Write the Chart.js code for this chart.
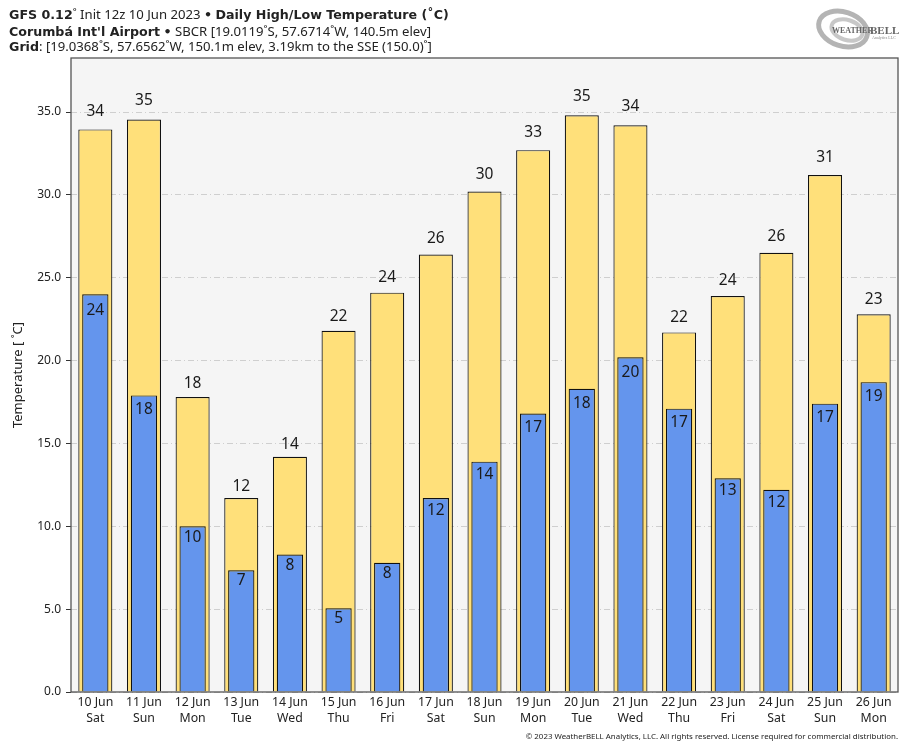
<!DOCTYPE html>
<html>
<head>
<meta charset="utf-8">
<title>Daily High/Low Temperature</title>
<script src="https://cdn.jsdelivr.net/npm/chart.js@4"></script>
<style>
  body { margin: 0; background: #fff; }
  #wrap { position: relative; width: 914px; height: 750px; overflow: hidden; }
  canvas { position: absolute; left: 0; top: 0; }
  .head { position: absolute; left: 9px; white-space: nowrap; color: #222; font: 13.15px "Noto Sans", sans-serif; line-height: 16px; }
  .head b { font: bold 12.65px "DejaVu Sans", sans-serif; }
  #foot { position: absolute; right: 16px; top: 731px; color: #222; font: 7.9px "Noto Sans", sans-serif; white-space: nowrap; }
  #logo { position: absolute; left: 810px; top: 4px; }
</style>
</head>
<body>
<div id="wrap">
  <canvas id="myChart" width="914" height="750"></canvas>
  <div class="head" style="top:6px"><b>GFS 0.12</b>˚ Init 12z 10 Jun 2023 <b>•</b> <b>Daily High/Low Temperature (˚C)</b></div>
  <div class="head" style="top:23px"><b>Corumbá Int'l Airport</b> <b>•</b> SBCR [19.0119˚S, 57.6714˚W, 140.5m elev]</div>
  <div class="head" style="top:38px"><b>Grid</b>: [19.0368˚S, 57.6562˚W, 150.1m elev, 3.19km to the SSE (150.0)˚]</div>
  <svg id="logo" width="95" height="50" viewBox="0 0 95 50">
    <g fill="none">
      <ellipse cx="33" cy="25" rx="25" ry="17" stroke="#b4b4b4" stroke-width="5" transform="rotate(18 33 25)"/>
      <ellipse cx="37" cy="26" rx="16" ry="10" stroke="#c8c8c8" stroke-width="4" transform="rotate(18 37 26)"/>
    </g>
    <text x="22" y="29" font-family="Liberation Serif" font-size="8" font-weight="bold" fill="#666">WEATHER</text>
    <text x="60" y="30" font-family="Liberation Serif" font-size="11" font-weight="bold" fill="#666">BELL</text>
    <text x="62" y="35" font-family="Liberation Serif" font-size="4" fill="#888">Analytics LLC</text>
  </svg>
  <div id="foot">© 2023 WeatherBELL Analytics, LLC. All rights reserved. License required for commercial distribution.</div>
</div>
<script>
// Data
const days = ['10 Jun', '11 Jun', '12 Jun', '13 Jun', '14 Jun', '15 Jun', '16 Jun', '17 Jun', '18 Jun', '19 Jun', '20 Jun', '21 Jun', '22 Jun', '23 Jun', '24 Jun', '25 Jun', '26 Jun'];
const weekdays = ['Sat', 'Sun', 'Mon', 'Tue', 'Wed', 'Thu', 'Fri', 'Sat', 'Sun', 'Mon', 'Tue', 'Wed', 'Thu', 'Fri', 'Sat', 'Sun', 'Mon'];
const highs = [33.95, 34.55, 17.8, 11.7, 14.2, 21.8, 24.1, 26.4, 30.2, 32.7, 34.8, 34.2, 21.7, 23.9, 26.5, 31.2, 22.8];
const lows = [24.0, 17.9, 10.0, 7.35, 8.3, 5.05, 7.8, 11.7, 13.9, 16.8, 18.3, 20.2, 17.1, 12.9, 12.2, 17.4, 18.7];
const highLabels = [34, 35, 18, 12, 14, 22, 24, 26, 30, 33, 35, 34, 22, 24, 26, 31, 23];
const lowLabels = [24, 18, 10, 7, 8, 5, 8, 12, 14, 17, 18, 20, 17, 13, 12, 17, 19];

const fontName = '"Noto Sans", sans-serif';

// plot background goes under the grid
const plotBackground = {
    id: 'plotBackground',
    beforeDraw(chart) {
        const a = chart.chartArea;
        chart.ctx.fillStyle = '#f5f5f5';
        chart.ctx.fillRect(a.left, a.top, a.width, a.height);
    }
};

// value labels and the dark frame around the plot
// the gap between label and bar top grows with the value in the original
const barLabels = {
    id: 'barLabels',
    afterDatasetsDraw(chart) {
        const ctx = chart.ctx;
        const a = chart.chartArea;
        const x = chart.scales.x;
        const y = chart.scales.y;
        ctx.save();
        ctx.fillStyle = '#1a1a1a';
        ctx.font = '15.5px ' + fontName;
        ctx.textAlign = 'center';
        ctx.textBaseline = 'middle';
        for (let i = 0; i < days.length; i++) {
            ctx.fillText(highLabels[i], x.getPixelForValue(i), y.getPixelForValue(highs[i]) - 7.4 - 0.32 * highs[i]);
            ctx.fillText(lowLabels[i], x.getPixelForValue(i), y.getPixelForValue(lows[i]) + 8.2 + 0.34 * lows[i]);
        }
        ctx.strokeStyle = '#555';
        ctx.lineWidth = 1.3;
        ctx.strokeRect(a.left, a.top, a.width, a.height);
        ctx.restore();
    }
};

const ctx = document.getElementById('myChart').getContext('2d');
const myChart = new Chart(ctx, {
    type: 'bar',
    data: {
        labels: days.map((d, i) => [d, weekdays[i]]),
        datasets: [
            {
                label: 'Low',
                data: lows,
                backgroundColor: '#6495ed',
                borderColor: '#111',
                borderWidth: 1.2,
                categoryPercentage: 0.54,
                barPercentage: 1,
                grouped: false,
                order: 1
            },
            {
                label: 'High',
                data: highs,
                backgroundColor: '#ffe07a',
                borderColor: '#111',
                borderWidth: 1.2,
                categoryPercentage: 0.7,
                barPercentage: 1,
                grouped: false,
                order: 2
            }
        ]
    },
    options: {
        responsive: false,
        animation: false,
        layout: { padding: { top: 58, right: 16, left: 0, bottom: 0 } },
        plugins: { legend: { display: false }, tooltip: { enabled: false } },
        scales: {
            x: {
                afterFit(axis) { axis.height = 58; },
                grid: { display: false, tickLength: 3 },
                border: { display: false },
                ticks: {
                    color: '#222',
                    font: { family: fontName, size: 12.3, lineHeight: 1.25 },
                    maxRotation: 0,
                    autoSkip: false,
                    padding: 0
                }
            },
            y: {
                min: 0,
                max: 38.26,
                afterFit(axis) { axis.width = 71; },
                title: {
                    display: true,
                    text: 'Temperature [ ˚C]',
                    color: '#222',
                    font: { family: fontName, size: 13 },
                    padding: { top: 10, bottom: 0 }
                },
                border: { display: false, dash: [6, 3, 1, 3] },
                grid: {
                    color: '#cfcfcf',
                    tickColor: '#333',
                    tickBorderDash: [],
                    tickLength: 5
                },
                ticks: {
                    stepSize: 5,
                    includeBounds: false,
                    color: '#222',
                    font: { family: fontName, size: 12 },
                    padding: 5,
                    callback: v => v.toFixed(1)
                }
            }
        }
    },
    plugins: [plotBackground, barLabels]
});
</script>
</body>
</html>
